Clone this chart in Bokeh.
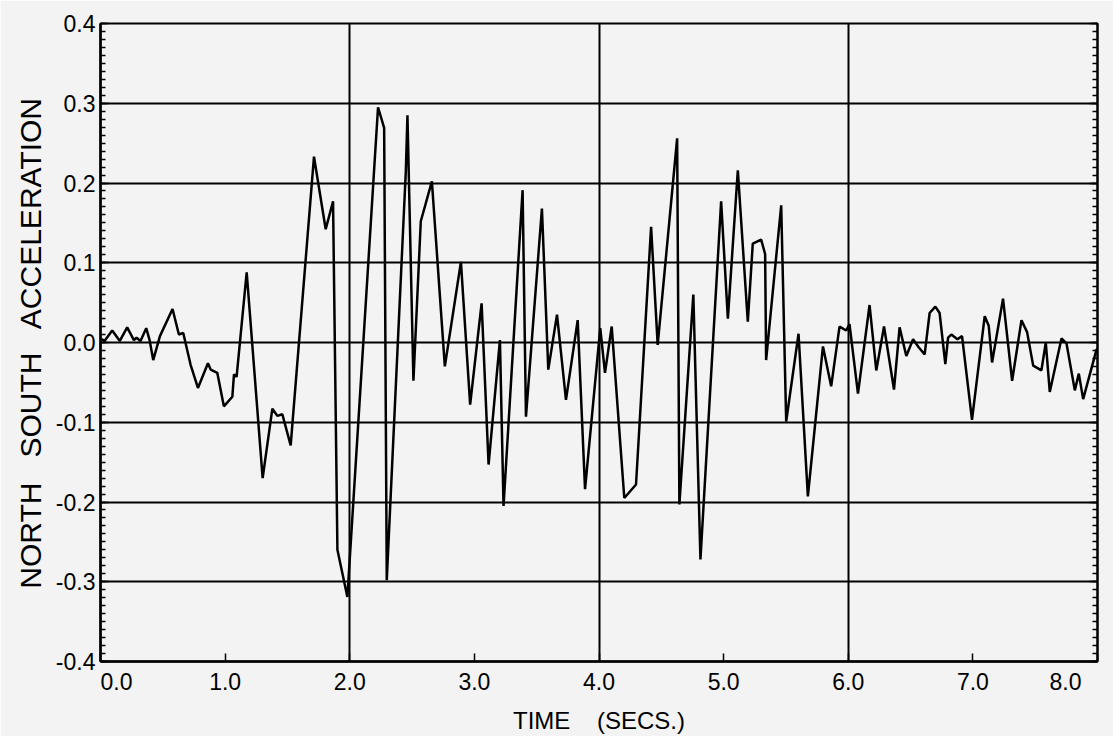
from bokeh.plotting import figure
from bokeh.models import Range1d, FixedTicker, LinearAxis, CustomJSTickFormatter
from bokeh.embed import file_html
from bokeh.resources import INLINE

# Digitised record: time (s) and north-south acceleration (g)
time = [0.000, 0.032, 0.094, 0.155, 0.214, 0.268, 0.289, 0.321, 0.367, 0.394,
        0.423, 0.477, 0.578, 0.629, 0.664, 0.723, 0.782, 0.862, 0.884, 0.937,
        0.990, 1.058, 1.071, 1.092, 1.173, 1.301, 1.379, 1.419, 1.459, 1.526,
        1.713, 1.807, 1.866, 1.901, 1.981, 2.227, 2.276, 2.297, 2.450, 2.463,
        2.511, 2.570, 2.659, 2.763, 2.892, 2.966, 3.058, 3.114, 3.205, 3.234,
        3.387, 3.414, 3.542, 3.593, 3.663, 3.735, 3.829, 3.888, 4.010, 4.048,
        4.102, 4.203, 4.297, 4.418, 4.471, 4.627, 4.645, 4.757, 4.814, 4.980,
        5.034, 5.114, 5.194, 5.234, 5.301, 5.333, 5.341, 5.462, 5.502, 5.601,
        5.676, 5.797, 5.863, 5.930, 5.984, 6.010, 6.078, 6.171, 6.225, 6.287,
        6.367, 6.412, 6.466, 6.520, 6.565, 6.613, 6.653, 6.699, 6.733, 6.779,
        6.801, 6.827, 6.876, 6.913, 6.993, 7.095, 7.127, 7.154, 7.242, 7.315,
        7.390, 7.435, 7.484, 7.550, 7.585, 7.617, 7.711, 7.751, 7.818, 7.850,
        7.885, 7.992, 8.000]
accel = [0.005, 0.002, 0.015, 0.002, 0.019, 0.003, 0.006, 0.002, 0.018, 0.003,
         -0.022, 0.008, 0.042, 0.010, 0.012, -0.028, -0.057, -0.026, -0.034, -0.038,
         -0.080, -0.068, -0.040, -0.043, 0.088, -0.170, -0.083, -0.092, -0.090, -0.129,
         0.233, 0.142, 0.177, -0.260, -0.319, 0.295, 0.269, -0.298, 0.215, 0.285,
         -0.048, 0.152, 0.202, -0.030, 0.101, -0.078, 0.049, -0.153, 0.003, -0.205,
         0.191, -0.093, 0.168, -0.034, 0.035, -0.072, 0.028, -0.184, 0.018, -0.038,
         0.020, -0.195, -0.178, 0.145, -0.003, 0.256, -0.203, 0.060, -0.272, 0.177,
         0.030, 0.216, 0.026, 0.124, 0.129, 0.111, -0.022, 0.172, -0.099, 0.011,
         -0.193, -0.005, -0.055, 0.020, 0.015, 0.023, -0.064, 0.047, -0.035, 0.020,
         -0.059, 0.019, -0.017, 0.004, -0.006, -0.015, 0.037, 0.045, 0.037, -0.027,
         0.006, 0.010, 0.004, 0.008, -0.097, 0.033, 0.021, -0.025, 0.055, -0.048,
         0.028, 0.013, -0.029, -0.035, 0.000, -0.062, 0.005, -0.001, -0.060, -0.039,
         -0.071, -0.009, -0.008]

y_ticks = [-0.4, -0.3, -0.2, -0.1, 0.0, 0.1, 0.2, 0.3, 0.4]
x_ticks = [0, 1, 2, 3, 4, 5, 6, 7, 8]
x_grid = [2, 4, 6]
y_label = "NORTH\u00a0\u00a0 SOUTH\u00a0\u00a0 ACCELERATION"
x_label = "TIME\u00a0\u00a0\u00a0 (SECS.)"

bg = "#f3f3f3"
font = "Liberation Sans"

p = figure(width=1113, height=736, x_range=Range1d(0, 8), y_range=Range1d(-0.4, 0.4),
           output_backend="svg", toolbar_location=None,
           min_border_left=100, min_border_right=16, min_border_top=23, min_border_bottom=73,
           background_fill_color=bg, border_fill_color=bg,
           outline_line_color="black", outline_line_width=2)

p.line(time, accel, line_color="black", line_width=2.5)

yfmt = CustomJSTickFormatter(code="return tick.toFixed(1);")
# end labels of the time axis sit inside the frame, as in the plotter original
xfmt = CustomJSTickFormatter(code="""
const s = tick.toFixed(1);
const pad = '\\u00a0\\u00a0\\u00a0\\u00a0\\u00a0';
if (index == 0) { return pad + s; }
if (index == ticks.length - 1) { return s + pad; }
return s;
""")
y_minor = [round(-0.4 + 0.01 * i, 2) for i in range(81)]
yt = FixedTicker(ticks=y_ticks, minor_ticks=y_minor)
xt = FixedTicker(ticks=x_ticks, minor_ticks=[])

for ax in p.yaxis:
    ax.ticker = yt
    ax.formatter = yfmt
    ax.axis_label = y_label
for ax in p.xaxis:
    ax.ticker = xt
    ax.formatter = xfmt
    ax.axis_label = x_label

for ax in list(p.xaxis) + list(p.yaxis):
    ax.axis_line_color = "black"
    ax.axis_line_width = 2.5
    ax.major_tick_in = 8
    ax.major_tick_out = 0
    ax.minor_tick_in = 5
    ax.minor_tick_out = 0
    ax.major_tick_line_color = "black"
    ax.minor_tick_line_color = "black"
    ax.major_tick_line_width = 1.5
    ax.minor_tick_line_width = 1.5
    ax.major_label_text_font = font
    ax.major_label_text_font_size = "23px"
    ax.major_label_text_color = "black"
    ax.axis_label_text_font = font
    ax.axis_label_text_font_style = "normal"
    ax.axis_label_text_color = "black"

p.yaxis.major_label_standoff = 5
p.xaxis.major_label_standoff = 7
p.yaxis.axis_label_text_font_size = "30px"
p.xaxis.axis_label_text_font_size = "24px"
p.yaxis.axis_label_standoff = 6
p.xaxis.axis_label_standoff = 9

ax_r = LinearAxis(ticker=yt, formatter=yfmt, major_label_text_color=None,
                  axis_line_color="black", axis_line_width=2,
                  major_tick_in=8, major_tick_out=0, minor_tick_in=5, minor_tick_out=0,
                  major_tick_line_width=1.5, minor_tick_line_width=1.5,
                  major_label_text_font_size="1px", major_label_standoff=0)
p.add_layout(ax_r, "right")

p.ygrid.ticker = FixedTicker(ticks=y_ticks)
p.xgrid.ticker = FixedTicker(ticks=x_grid)
for g in [p.xgrid[0], p.ygrid[0]]:
    g.grid_line_color = "black"
    g.grid_line_width = 2
    g.grid_line_alpha = 1.0

open("out.html", "w").write(file_html(p, INLINE))
